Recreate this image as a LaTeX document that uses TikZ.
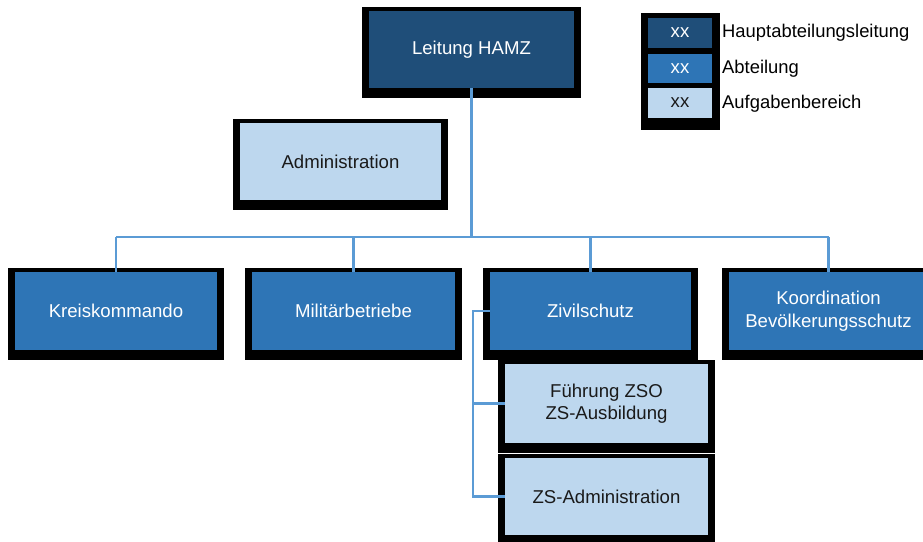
\documentclass[tikz,border=0pt]{standalone}
\usepackage{fontspec}
\setmainfont{Liberation Sans}
\usetikzlibrary{calc,backgrounds}
\definecolor{hdark}{HTML}{1F4E79}
\definecolor{hmid}{HTML}{2E75B6}
\definecolor{hlight}{HTML}{BDD7EE}
\definecolor{hline}{HTML}{5B9BD5}
\definecolor{htext}{HTML}{1A1A1A}
\tikzset{
  outerbox/.style={fill=black, draw=none, inner sep=0pt},
  boxtext/.style={draw=none, inner sep=0pt, align=center, font=\fontsize{18.6}{22.5}\selectfont},
  lead/.style={boxtext, fill=hdark, text=white},
  dept/.style={boxtext, fill=hmid, text=white},
  task/.style={boxtext, fill=hlight, text=htext},
  conn/.style={draw=hline, line width=2.2pt},
  legtext/.style={anchor=west, inner sep=0pt, text=black, font=\fontsize{18.4}{22}\selectfont}
}
% #1 name, #2 style, #3 x1, #4 y1, #5 x2, #6 y2 (outer), #7 text
\newcommand\orgbox[7]{%
  \pgfmathsetmacro\obcx{(#3+#5)/2}%
  \pgfmathsetmacro\obcy{(#4+#6)/2}%
  \pgfmathsetmacro\obw{#5-#3}%
  \pgfmathsetmacro\obh{#6-#4}%
  \pgfmathsetmacro\obicy{(#4+#6-6)/2}%
  \pgfmathsetmacro\obiw{#5-#3-14}%
  \pgfmathsetmacro\obih{#6-#4-14}%
  \node[outerbox, minimum width=\obw pt, minimum height=\obh pt] (#1-o) at (\obcx,\obcy) {};
  \node[#2, minimum width=\obiw pt, minimum height=\obih pt] (#1) at (\obcx,\obicy) {#7};
}
\begin{document}
\begin{tikzpicture}[x=1pt,y=-1pt]
\useasboundingbox (0,0) rectangle (923,541);
\clip (0,0) rectangle (923,541);
\fill[white] (0,0) rectangle (923,541);

% boxes
\orgbox{lead}{lead}{362}{7}{581}{98}{Leitung HAMZ}
\orgbox{adm}{task}{233}{119}{448}{210}{Administration}
\orgbox{kreis}{dept}{8}{268}{224}{360}{Kreiskommando}
\orgbox{milit}{dept}{245}{268}{462}{360}{Militärbetriebe}
\orgbox{zivil}{dept}{483}{268}{698}{360}{Zivilschutz}
\orgbox{koord}{dept}{722}{268}{935}{360}{Koordination\\Bevölkerungsschutz}
\orgbox{fzso}{task}{498}{360}{715}{453}{Führung ZSO\\ZS-Ausbildung}
\orgbox{zsadm}{task}{498}{454}{715}{545}{ZS-Administration}

% legend
\node[outerbox, minimum width=79pt, minimum height=117pt] (leg) at (680.5,71.5) {};
\node[lead, minimum width=64pt, minimum height=30pt] (leg1) at (680,33) {xx};
\node[dept, minimum width=64pt, minimum height=29pt] (leg2) at (680,68.5) {xx};
\node[task, minimum width=64pt, minimum height=30pt] (leg3) at (680,103) {xx};
\node[legtext] (legt1) at (722,33) {Hauptabteilungsleitung};
\node[legtext] (legt2) at (722,69) {Abteilung};
\node[legtext] (legt3) at (722,104) {Aufgabenbereich};

% connectors
\coordinate (bus) at (0,237);
\coordinate (zsx) at (473,0);
\draw[conn] (lead.south) -- (lead.south |- bus);
\draw[conn] (kreis.north |- bus) -- (koord.north |- bus);
\draw[conn] (kreis.north |- bus) -- (kreis.north);
\draw[conn] (milit.north |- bus) -- (milit.north);
\draw[conn] (zivil.north |- bus) -- (zivil.north);
\draw[conn] (koord.north |- bus) -- (koord.north);
\begin{scope}[on background layer]
\draw[conn] (adm.east) -- (adm.east -| lead.south);
\end{scope}
\draw[conn] (zivil.west) -- (zivil.west -| zsx) |- (zsadm.west);
\draw[conn] (zivil.west -| zsx) |- (fzso.west);
\end{tikzpicture}
\end{document}
